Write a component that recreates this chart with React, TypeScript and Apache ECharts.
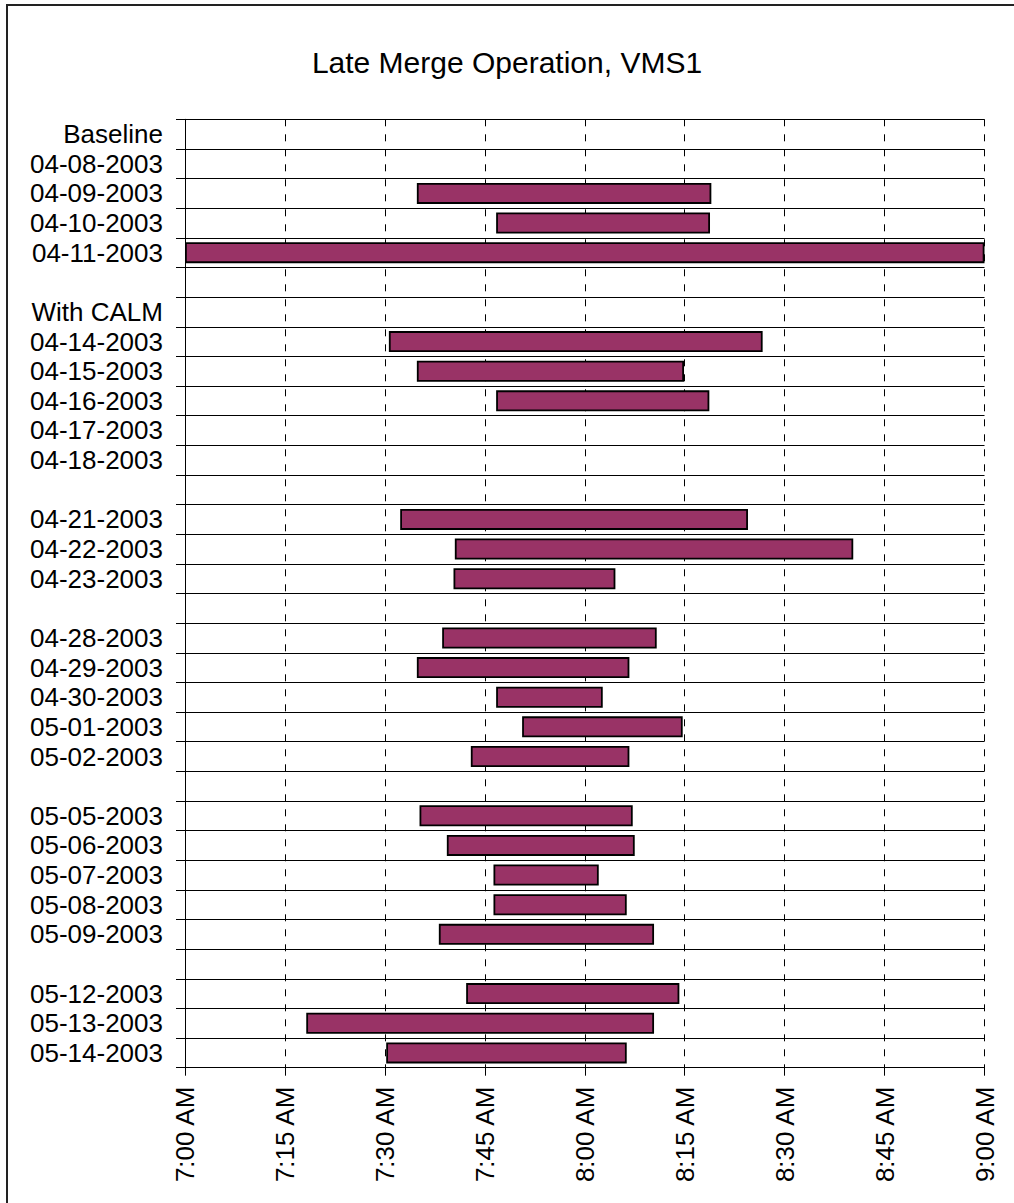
import React, { useEffect, useRef } from "react";
import * as echarts from "echarts";

// Rows from top to bottom ("" = blank spacer row)
const categories: string[] = [
  "Baseline", "04-08-2003", "04-09-2003", "04-10-2003", "04-11-2003",
  "",
  "With CALM", "04-14-2003", "04-15-2003", "04-16-2003", "04-17-2003", "04-18-2003",
  "",
  "04-21-2003", "04-22-2003", "04-23-2003",
  "",
  "04-28-2003", "04-29-2003", "04-30-2003", "05-01-2003", "05-02-2003",
  "",
  "05-05-2003", "05-06-2003", "05-07-2003", "05-08-2003", "05-09-2003",
  "",
  "05-12-2003", "05-13-2003", "05-14-2003",
];

// Start / end of late-merge operation, minutes after 7:00 AM (null = none)
const startMinutes: (number | null)[] = [
  null, null, 34.8, 46.7, 0,
  null,
  null, 30.6, 34.8, 46.7, null, null,
  null,
  32.3, 40.5, 40.3,
  null,
  38.6, 34.8, 46.7, 50.6, 42.9,
  null,
  35.2, 39.3, 46.3, 46.3, 38.1,
  null,
  42.2, 18.2, 30.2,
];
const endMinutes: (number | null)[] = [
  null, null, 79.0, 78.8, 120,
  null,
  null, 86.7, 74.9, 78.7, null, null,
  null,
  84.5, 100.3, 64.6,
  null,
  70.8, 66.7, 62.7, 74.7, 66.7,
  null,
  67.2, 67.5, 62.1, 66.3, 70.4,
  null,
  74.2, 70.4, 66.3,
];

const tickLabels: string[] = [
  "7:00 AM", "7:15 AM", "7:30 AM", "7:45 AM", "8:00 AM",
  "8:15 AM", "8:30 AM", "8:45 AM", "9:00 AM",
];

const titleText = "Late Merge Operation, VMS1";
const FONT = "'Liberation Sans', Arial, Helvetica, sans-serif";

export default function App() {
  const ref = useRef<HTMLDivElement>(null);

  useEffect(() => {
    if (!ref.current) return;
    const chart = echarts.init(ref.current, undefined, { renderer: "svg" });

    const base = startMinutes.map((s) => (s === null ? "-" : s));
    const dur = startMinutes.map((s, i) => {
      const e = endMinutes[i];
      return s === null || e === null ? "-" : +(e - s).toFixed(2);
    });

    chart.setOption({
      animation: false,
      backgroundColor: "#ffffff",
      textStyle: { fontFamily: FONT },
      title: {
        text: titleText,
        left: "center",
        top: 42,
        textStyle: {
          fontFamily: FONT,
          fontSize: 30,
          fontWeight: "normal",
          color: "#000",
        },
      },
      graphic: [
        {
          type: "rect",
          shape: { x: 7, y: 5, width: 1100, height: 1300 },
          style: { fill: "none", stroke: "#222", lineWidth: 2 },
          silent: true,
        },
      ],
      grid: {
        left: 185,
        right: 29.5,
        top: 119.3,
        bottom: 135.3,
        containLabel: false,
      },
      xAxis: {
        type: "value",
        min: 0,
        max: 120,
        interval: 15,
        axisLine: { show: true, lineStyle: { color: "#000", width: 1 } },
        axisTick: { show: true, length: 8, lineStyle: { color: "#000", width: 1 } },
        axisLabel: {
          rotate: 90,
          margin: 19,
          fontSize: 26,
          fontFamily: FONT,
          color: "#000",
          formatter: (v: number) => tickLabels[Math.round(v / 15)] ?? "",
        },
        splitLine: {
          show: true,
          lineStyle: { color: "#000", width: 1, type: [7, 8] },
        },
      },
      yAxis: {
        type: "category",
        data: categories,
        inverse: true,
        axisLine: { show: true, lineStyle: { color: "#000", width: 1 } },
        axisTick: {
          show: true,
          length: 9,
          interval: 0,
          lineStyle: { color: "#000", width: 1 },
        },
        axisLabel: {
          interval: 0,
          margin: 22,
          fontSize: 26,
          fontFamily: FONT,
          color: "#000",
        },
        splitLine: {
          show: true,
          interval: 0,
          lineStyle: { color: "#000", width: 1 },
        },
      },
      series: [
        {
          name: "start",
          type: "bar",
          stack: "t",
          data: base,
          barWidth: 21,
          silent: true,
          itemStyle: { color: "transparent", borderWidth: 0 },
        },
        {
          name: "duration",
          type: "bar",
          stack: "t",
          data: dur,
          barWidth: 21,
          itemStyle: {
            color: "#993366",
            borderColor: "#000",
            borderWidth: 1.8,
          },
        },
      ],
    });

    return () => chart.dispose();
  }, []);

  return (
    <div
      ref={ref}
      style={{ position: "absolute", left: 0, top: 0, width: 1014, height: 1203 }}
    />
  );
}
